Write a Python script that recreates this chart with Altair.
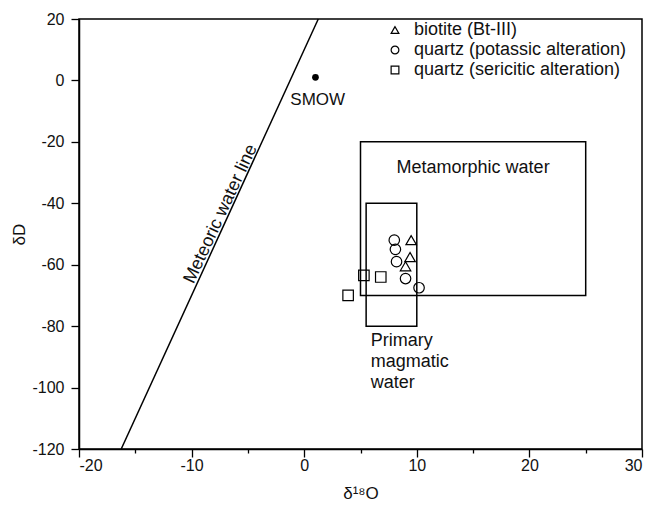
import altair as alt
import pandas as pd

# --- data ---
bt_x = [9.5, 9.4, 9.0]
bt_y = [-52.0, -57.5, -60.5]
qk_x = [8.0, 8.1, 8.2, 9.0, 10.2]
qk_y = [-52.0, -55.0, -59.0, -64.5, -67.5]
qs_x = [5.3, 6.8, 3.9]
qs_y = [-63.5, -64.0, -70.0]
series = ["biotite (Bt-III)", "quartz (potassic alteration)", "quartz (sericitic alteration)"]
shapes = ["triangle-up", "circle", "square"]

box_x1 = [5.0, 5.5]
box_x2 = [25.0, 10.0]
box_y1 = [-20.0, -40.0]
box_y2 = [-70.0, -80.0]

mwl_x = [-16.25, 1.25]
mwl_y = [-120.0, 20.0]

smow_x = [1.0]
smow_y = [1.0]

x_ticks = [-20, -15, -10, -5, 0, 5, 10, 15, 20, 25, 30]
y_ticks = [20, 0, -20, -40, -60, -80, -100, -120]

FONT = "Liberation Sans"
TXT = "#111111"
FS = 18

pts = pd.DataFrame({
    "x": bt_x + qk_x + qs_x,
    "y": bt_y + qk_y + qs_y,
    "g": [series[0]] * len(bt_x) + [series[1]] * len(qk_x) + [series[2]] * len(qs_x),
})
boxes = pd.DataFrame({"x1": box_x1, "x2": box_x2, "y1": box_y1, "y2": box_y2})
mwl = pd.DataFrame({"x": mwl_x, "y": mwl_y})
smow = pd.DataFrame({"x": smow_x, "y": smow_y})

xs = alt.Scale(domain=[-20, 30], nice=False, zero=False)
ys = alt.Scale(domain=[-120, 20], nice=False, zero=False)

x_axis = alt.Axis(
    values=x_ticks, title="δ¹⁸O", grid=False,
    labelExpr="datum.value % 10 === 0 ? toString(datum.value) : ''",
    tickSize=alt.ExprRef(expr="datum.value % 10 === 0 ? 8 : 4"),
    labelFontSize=16, labelFont=FONT, labelColor=TXT, labelPadding=0,
    titleFontSize=17, titleFont=FONT, titleColor=TXT, titleFontWeight="normal",
    titleY=44, titleBaseline="middle",
    domainColor="black", tickColor="black", domainWidth=1.5, tickWidth=1.3,
)
y_axis = alt.Axis(
    values=y_ticks, title="δD", grid=False,
    labelExpr="toString(datum.value)",
    tickSize=8,
    labelFontSize=16, labelFont=FONT, labelColor=TXT, labelPadding=7,
    titleFontSize=17, titleFont=FONT, titleColor=TXT, titleFontWeight="normal",
    titleX=-60, titleBaseline="middle",
    domainColor="black", tickColor="black", domainWidth=1.5, tickWidth=1.3,
)

base_x = alt.X("x:Q", scale=xs, axis=x_axis)
base_y = alt.Y("y:Q", scale=ys, axis=y_axis)

rects = alt.Chart(boxes).mark_rect(fill=None, fillOpacity=0, stroke="black", strokeWidth=1.5).encode(
    x=alt.X("x1:Q", scale=xs, axis=x_axis), x2="x2:Q",
    y=alt.Y("y1:Q", scale=ys, axis=y_axis), y2="y2:Q",
)

line = alt.Chart(mwl).mark_line(color="black", strokeWidth=1.5).encode(x=base_x, y=base_y)

smow_pt = alt.Chart(smow).mark_point(filled=True, color="black", size=45, opacity=1).encode(x=base_x, y=base_y)

points = alt.Chart(pts).mark_point(filled=False, stroke="black", strokeWidth=1.2, size=110, opacity=1).encode(
    x=base_x, y=base_y,
    shape=alt.Shape("g:N", scale=alt.Scale(domain=series, range=shapes),
                    legend=alt.Legend(title=None, orient="none", legendX=307, legendY=2,
                                      labelFontSize=FS, labelFont=FONT, labelColor=TXT, labelLimit=400,
                                      symbolSize=60, symbolStrokeColor="black", symbolFillColor="transparent",
                                      symbolStrokeWidth=1.2, labelOffset=10, rowPadding=2, padding=0)),
)

lab_smow = pd.DataFrame({"x": [1.2], "y": [-6.5], "t": ["SMOW"]})
lab_meta = pd.DataFrame({"x": [15.0], "y": [-28.5], "t": ["Metamorphic water"]})
lab_prim = pd.DataFrame({"x": [5.9], "y": [-84.7], "t": [["Primary", "magmatic", "water"]]})
lab_mwl = pd.DataFrame({"x": [-7.4], "y": [-43.5], "t": ["Meteoric water line"]})

def txt(df, fs=FS, **kw):
    return alt.Chart(df).mark_text(font=FONT, fontSize=fs, color=TXT, **kw).encode(
        x=base_x, y=base_y, text="t")

t1 = txt(lab_smow, fs=17, align="center", baseline="middle")
t2 = txt(lab_meta, align="center", baseline="middle")
t3 = txt(lab_prim, align="left", baseline="middle", lineHeight=21)
t4 = txt(lab_mwl, align="center", baseline="middle", angle=295)

chart = alt.layer(rects, line, smow_pt, points, t1, t2, t3, t4).properties(
    width=563, height=430,
    autosize=alt.AutoSizeParams(type="none"),
    padding={"left": 79, "top": 19, "right": 12, "bottom": 59},
    background="white",
).configure_view(stroke="black", strokeWidth=1.5)

chart.save("out.html", embed_options={"renderer": "svg", "actions": False})
